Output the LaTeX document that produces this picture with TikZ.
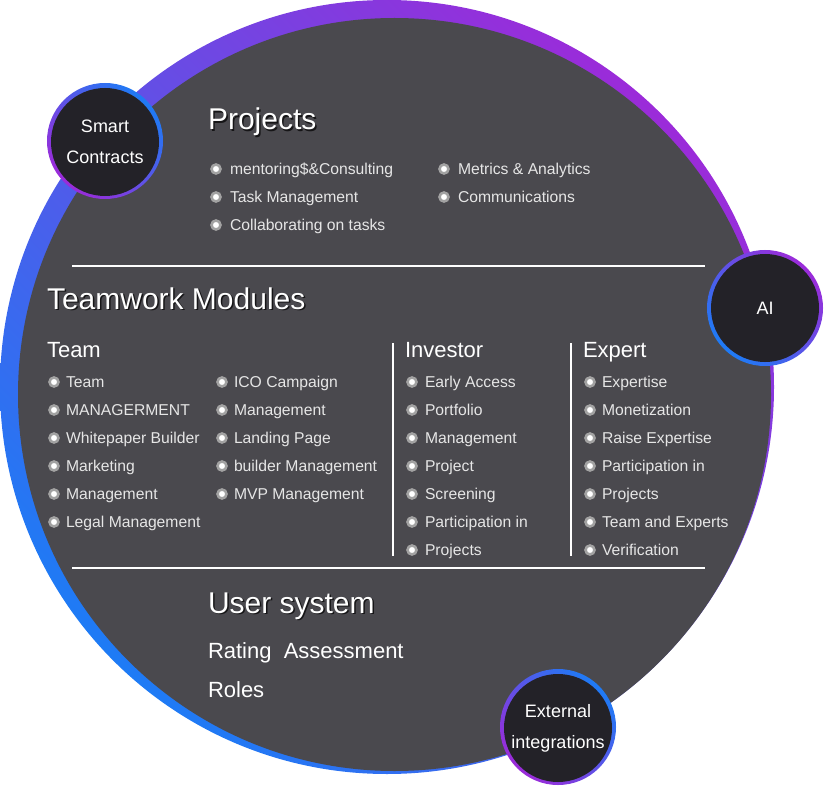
\documentclass[tikz,border=0pt]{standalone}
\usepackage{fontspec}
\setmainfont{Liberation Sans}
\usepackage{xcolor}

\definecolor{ringblue}{HTML}{1E7BF5}
\definecolor{ringpurple}{HTML}{9B2BD9}
\definecolor{panel}{HTML}{4A494E}
\definecolor{hubfill}{HTML}{232228}
\definecolor{dotgrey}{HTML}{A2A2A2}
\definecolor{itemtext}{HTML}{E6E6E6}

\begin{document}
\begin{tikzpicture}[x=1pt,y=-1pt]
\tikzstyle{every node}=[inner sep=0pt, outer sep=0pt]
\tikzstyle{head}=[anchor=base west, text=white, font=\fontsize{30}{36}\selectfont]
\tikzstyle{headshadow}=[head, text=black, opacity=0.7]
\tikzstyle{subhead}=[anchor=base west, text=white, font=\fontsize{22}{26}\selectfont]
\tikzstyle{entry}=[anchor=base west, text=itemtext, font=\fontsize{15.7}{18}\selectfont]
\tikzstyle{dot}=[circle, fill=white, draw=dotgrey, line width=2.6pt, minimum size=9pt]
\tikzstyle{hub}=[circle, fill=hubfill, minimum size=108pt, text=white, align=center, font=\fontsize{18}{31}\selectfont]
\tikzstyle{rule}=[draw=white, line width=1.1pt]
\useasboundingbox (0,0) rectangle (824,786);

% outer ring and panel
\shade[shading=axis, top color=ringpurple, bottom color=ringblue, shading angle=-45] (387,387) circle (387);
\fill[panel] (394.5,394.5) circle (376.5);

% projects
\node[headshadow] at (209.5,131.5) {Projects};
\node[head] (projects) at (208,130) {Projects};
\foreach \txt [count=\i from 0] in {mentoring\$\&Consulting, Task Management, Collaborating on tasks} {
  \node[dot] (projdot\i) at (216,169+28*\i) {};
  \node[entry] (proj\i) at (230,174.5+28*\i) {\txt};
}
\foreach \txt [count=\i from 0] in {Metrics \& Analytics, Communications} {
  \node[dot] (projbdot\i) at (444,169+28*\i) {};
  \node[entry] (projb\i) at (458,174.5+28*\i) {\txt};
}
\draw[rule] (72,266) -- (705,266);

% teamwork modules
\node[headshadow] at (48.5,310.5) {Teamwork Modules};
\node[head] (modules) at (47,309) {Teamwork Modules};
\node[subhead] (team) at (47,357) {Team};
\node[subhead] (investor) at (405,357) {Investor};
\node[subhead] (expert) at (583,357) {Expert};
\foreach \txt [count=\i from 0] in {Team, MANAGERMENT, Whitepaper Builder, Marketing, Management, Legal Management} {
  \node[dot] (teamdot\i) at (54,382+28*\i) {};
  \node[entry] (team\i) at (66,387.5+28*\i) {\txt};
}
\foreach \txt [count=\i from 0] in {ICO Campaign, Management, Landing Page, builder Management, MVP Management} {
  \node[dot] (teambdot\i) at (222,382+28*\i) {};
  \node[entry] (teamb\i) at (234,387.5+28*\i) {\txt};
}
\foreach \txt [count=\i from 0] in {Early Access, Portfolio, Management, Project, Screening, Participation in, Projects} {
  \node[dot] (invdot\i) at (412,382+28*\i) {};
  \node[entry] (inv\i) at (425,387.5+28*\i) {\txt};
}
\foreach \txt [count=\i from 0] in {Expertise, Monetization, Raise Expertise, Participation in, Projects, Team and Experts, Verification} {
  \node[dot] (expdot\i) at (590,382+28*\i) {};
  \node[entry] (exp\i) at (602,387.5+28*\i) {\txt};
}
\draw[rule] (393,343) -- (393,556);
\draw[rule] (571,343) -- (571,556);
\draw[rule] (72,568) -- (705,568);

% user system
\node[headshadow] at (209.5,614.5) {User system};
\node[head] (users) at (208,613) {User system};
\node[subhead] (rating) at (208,658) {Rating\ \ Assessment};
\node[subhead] (roles) at (208,697) {Roles};

% satellite hubs
\shade[shading=axis, top color=ringblue, bottom color=ringpurple, shading angle=-45] (105,141) circle (58);
\node[hub] (smart) at (105,142) {Smart\\Contracts};
\shade[shading=axis, top color=ringpurple, bottom color=ringblue, shading angle=-45] (765,308) circle (58);
\node[hub] (ai) at (765,308) {AI};
\shade[shading=axis, top color=ringblue, bottom color=ringpurple, shading angle=-45] (558,727) circle (58);
\node[hub] (external) at (558,728) {External\\integrations};
\end{tikzpicture}
\end{document}
